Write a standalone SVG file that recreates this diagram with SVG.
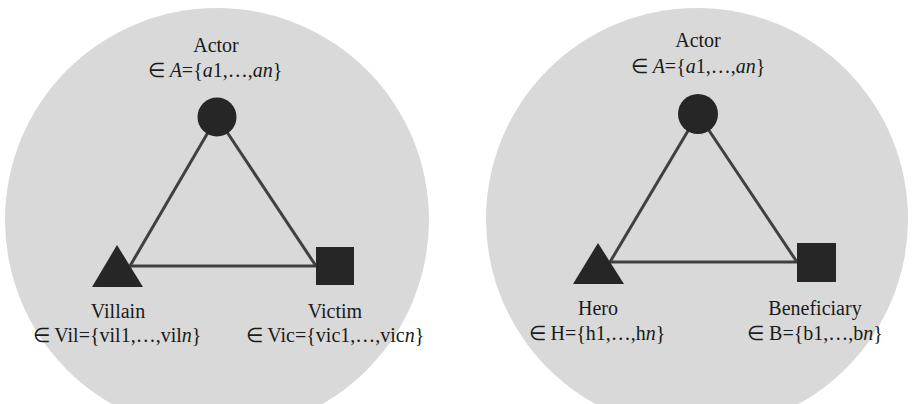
<svg xmlns="http://www.w3.org/2000/svg" width="912" height="404" viewBox="0 0 912 404">
<style>
.bg{fill:#d9d9d9}
.node{fill:#262626}
.edge{stroke:#404040;stroke-width:3;fill:none}
text{font-family:"Liberation Serif","Times New Roman",serif;font-size:20px;fill:#1a1a1a;text-anchor:middle}
.i{font-style:italic}
</style>
<rect width="912" height="404" fill="#ffffff"/>
<circle class="bg" cx="217" cy="220" r="212"/>
<circle class="bg" cx="697" cy="219" r="211"/>
<g id="connectors">
<line class="edge" x1="217" y1="117" x2="130" y2="266"/>
<line class="edge" x1="217" y1="117" x2="316" y2="266"/>
<line class="edge" x1="130" y1="266" x2="316" y2="266"/>
<line class="edge" x1="698" y1="114" x2="610" y2="262"/>
<line class="edge" x1="698" y1="114" x2="797" y2="262"/>
<line class="edge" x1="610" y1="262" x2="797" y2="262"/>
</g>
<g id="actor-left">
<circle class="node" cx="217" cy="117" r="19.5"/>
<text x="216" y="52">Actor</text>
<text x="215" y="77">∈ <tspan class="i">A</tspan>={<tspan class="i">a</tspan>1,…,<tspan class="i">an</tspan>}</text>
</g>
<g id="villain">
<polygon class="node" points="117,245 143,287 92,287"/>
<text x="118" y="318">Villain</text>
<text x="117" y="342">∈ Vil={vil1,…,vil<tspan class="i">n</tspan>}</text>
</g>
<g id="victim">
<rect class="node" x="316" y="247" width="38" height="38"/>
<text x="335" y="318">Victim</text>
<text x="335" y="342">∈ Vic={vic1,…,vic<tspan class="i">n</tspan>}</text>
</g>
<g id="actor-right">
<circle class="node" cx="698" cy="114" r="20"/>
<text x="698" y="47">Actor</text>
<text x="698" y="73">∈ <tspan class="i">A</tspan>={<tspan class="i">a</tspan>1,…,<tspan class="i">an</tspan>}</text>
</g>
<g id="hero">
<polygon class="node" points="598,243 624,284 573,284"/>
<text x="598" y="315">Hero</text>
<text x="597" y="340">∈ H={h1,…,h<tspan class="i">n</tspan>}</text>
</g>
<g id="beneficiary">
<rect class="node" x="797" y="243" width="39" height="39"/>
<text x="815" y="315">Beneficiary</text>
<text x="815" y="340">∈ B={b1,…,b<tspan class="i">n</tspan>}</text>
</g>
</svg>
